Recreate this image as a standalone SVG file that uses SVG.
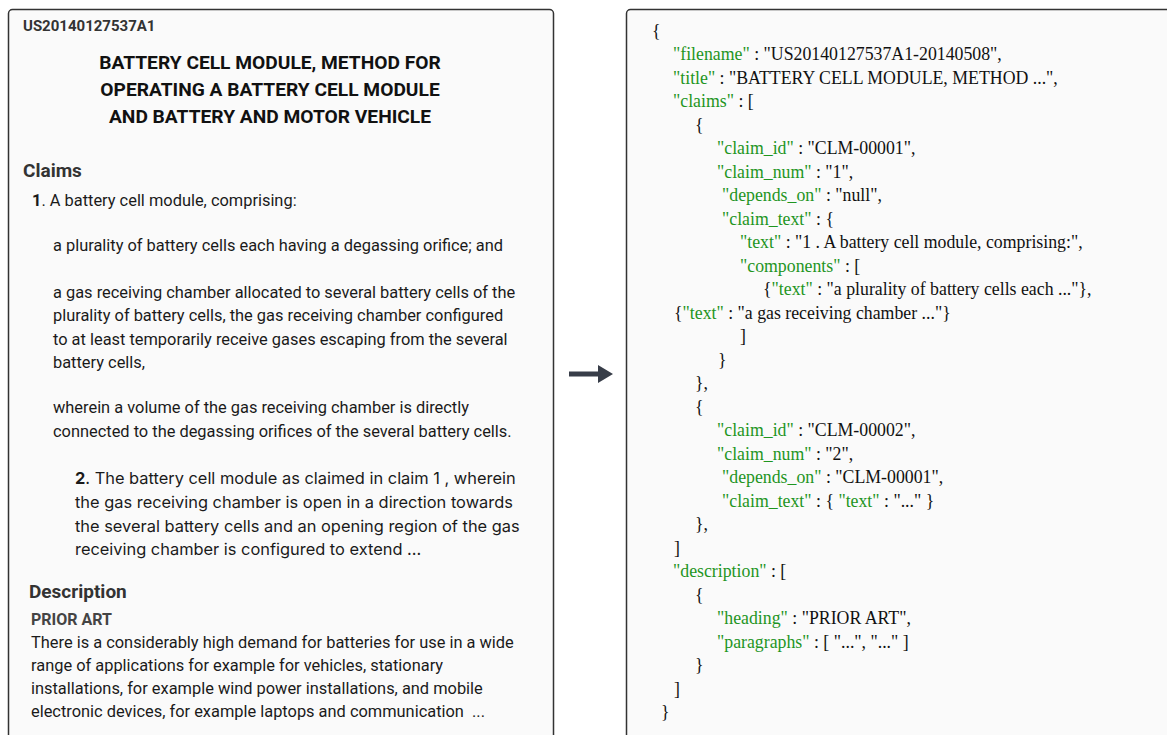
<svg xmlns="http://www.w3.org/2000/svg" width="1167" height="735" viewBox="0 0 1167 735">
  <defs>
    <style>
      .panel { fill: #fafafa; stroke: #333; stroke-width: 1.5; }
      .id { font-family: Roboto, "Liberation Sans", sans-serif; font-weight: 700; font-size: 15px; fill: #333; }
      .title { font-family: Roboto, "Liberation Sans", sans-serif; font-weight: 700; font-size: 19.2px; fill: #111; text-anchor: middle; }
      .head { font-family: Roboto, "Liberation Sans", sans-serif; font-weight: 700; font-size: 19px; fill: #333; }
      .sub { font-family: Roboto, "Liberation Sans", sans-serif; font-weight: 700; font-size: 16px; fill: #444; }
      .body { font-family: Roboto, "Liberation Sans", sans-serif; font-size: 16.4px; fill: #1a1a1a; }
      .body2 { font-family: Inter, "Liberation Sans", sans-serif; font-size: 16.4px; fill: #1a1a1a; }
      .b { font-weight: 700; }
      .json { font-family: "Liberation Serif", "Times New Roman", serif; font-size: 17.8px; fill: #111; }
      .k { fill: #1f951f; }
      .arrow { fill: #373d48; }
    </style>
  </defs>

  <!-- source document panel -->
  <g id="document">
    <rect class="panel" x="8.5" y="9.5" width="545" height="740" rx="4"/>
    <text class="id" x="23" y="31">US20140127537A1</text>
    <text class="title" x="270" y="69">BATTERY CELL MODULE, METHOD FOR</text>
    <text class="title" x="270" y="96">OPERATING A BATTERY CELL MODULE</text>
    <text class="title" x="270" y="123">AND BATTERY AND MOTOR VEHICLE</text>

    <text class="head" x="23" y="177">Claims</text>
    <text class="body" x="32" y="206"><tspan class="b">1</tspan>. A battery cell module, comprising:</text>
    <text class="body" x="53" y="251">a plurality of battery cells each having a degassing orifice; and</text>
    <text class="body" x="53" y="298">a gas receiving chamber allocated to several battery cells of the</text>
    <text class="body" x="53" y="321">plurality of battery cells, the gas receiving chamber configured</text>
    <text class="body" x="53" y="345">to at least temporarily receive gases escaping from the several</text>
    <text class="body" x="53" y="368">battery cells,</text>
    <text class="body" x="53" y="413">wherein a volume of the gas receiving chamber is directly</text>
    <text class="body" x="53" y="437">connected to the degassing orifices of the several battery cells.</text>
    <text class="body2" x="75" y="484"><tspan class="b">2</tspan>. The battery cell module as claimed in claim 1 , wherein</text>
    <text class="body2" x="75" y="508">the gas receiving chamber is open in a direction towards</text>
    <text class="body2" x="75" y="532">the several battery cells and an opening region of the gas</text>
    <text class="body2" x="75" y="555">receiving chamber is configured to extend ...</text>

    <text class="head" x="29" y="598">Description</text>
    <text class="sub" x="31" y="625">PRIOR ART</text>
    <text class="body" x="31" y="648">There is a considerably high demand for batteries for use in a wide</text>
    <text class="body" x="31" y="671">range of applications for example for vehicles, stationary</text>
    <text class="body" x="31" y="694">installations, for example wind power installations, and mobile</text>
    <text class="body" x="31" y="717" xml:space="preserve">electronic devices, for example laptops and communication  ...</text>
  </g>

  <!-- conversion arrow -->
  <g id="connectors">
    <path class="arrow" d="M569 371.5 H598 V365 L613 374 L598 383 V376.5 H569 Z"/>
  </g>

  <!-- structured JSON panel -->
  <g id="json" class="json" xml:space="preserve">
    <rect class="panel" x="626.5" y="9.5" width="560" height="740" rx="4"/>
    <text x="652" y="37">{</text>
    <text x="673" y="60"><tspan class="k">"filename"</tspan> : "US20140127537A1-20140508",</text>
    <text x="673" y="84"><tspan class="k">"title"</tspan> : "BATTERY CELL MODULE, METHOD ...",</text>
    <text x="673" y="107"><tspan class="k">"claims"</tspan> : [</text>
    <text x="695" y="131">{</text>
    <text x="717" y="154"><tspan class="k">"claim_id"</tspan> : "CLM-00001",</text>
    <text x="717" y="178"><tspan class="k">"claim_num"</tspan> : "1",</text>
    <text x="722" y="201"><tspan class="k">"depends_on"</tspan> : "null",</text>
    <text x="722" y="225"><tspan class="k">"claim_text"</tspan> : {</text>
    <text x="740" y="248"><tspan class="k">"text"</tspan> : "1 . A battery cell module, comprising:",</text>
    <text x="740" y="272"><tspan class="k">"components"</tspan> : [</text>
    <text x="763" y="295">{<tspan class="k">"text"</tspan> : "a plurality of battery cells each ..."},</text>
    <text x="674" y="319">{<tspan class="k">"text"</tspan> : "a gas receiving chamber ..."}</text>
    <text x="740" y="342">]</text>
    <text x="718" y="366">}</text>
    <text x="695" y="389">},</text>
    <text x="695" y="413">{</text>
    <text x="717" y="436"><tspan class="k">"claim_id"</tspan> : "CLM-00002",</text>
    <text x="717" y="460"><tspan class="k">"claim_num"</tspan> : "2",</text>
    <text x="722" y="483"><tspan class="k">"depends_on"</tspan> : "CLM-00001",</text>
    <text x="722" y="507"><tspan class="k">"claim_text"</tspan> : { <tspan class="k">"text"</tspan> : "..." }</text>
    <text x="695" y="530">},</text>
    <text x="674" y="554">]</text>
    <text x="673" y="577"><tspan class="k">"description"</tspan> : [</text>
    <text x="695" y="601">{</text>
    <text x="717" y="624"><tspan class="k">"heading"</tspan> : "PRIOR ART",</text>
    <text x="717" y="648"><tspan class="k">"paragraphs"</tspan> : [ "...", "..." ]</text>
    <text x="695" y="671">}</text>
    <text x="674" y="695">]</text>
    <text x="661" y="718">}</text>
  </g>
</svg>
